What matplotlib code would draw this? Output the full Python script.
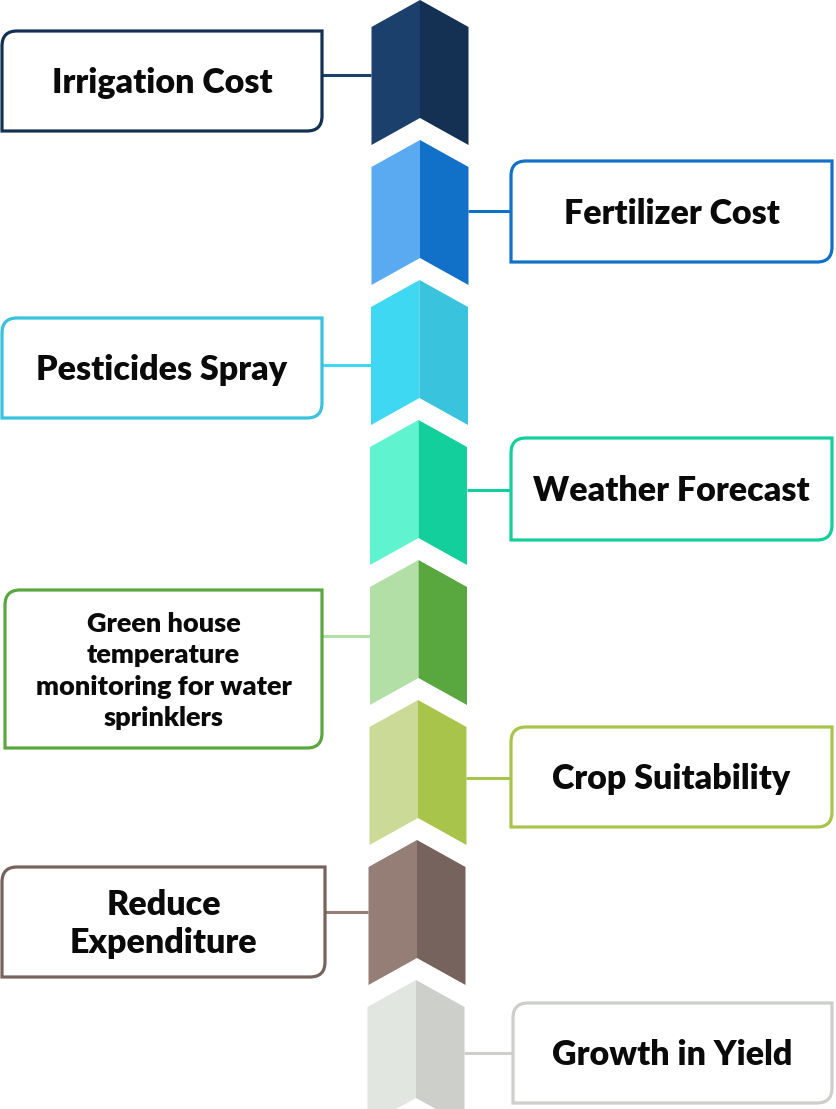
import matplotlib.pyplot as plt
from matplotlib.path import Path
from matplotlib.patches import PathPatch, Polygon

labels = [
    "Irrigation Cost",
    "Fertilizer Cost",
    "Pesticides Spray",
    "Weather Forecast",
    "Green house\ntemperature\nmonitoring for water\nsprinklers",
    "Crop Suitability",
    "Reduce\nExpenditure",
    "Growth in Yield",
]
sides = ["left", "right", "left", "right", "left", "right", "left", "right"]
light_colors = ["#1B406C", "#5AAAF2", "#3ED8F3", "#5FF3CF", "#B2DFA5", "#CCDA97", "#947E76", "#E1E6E1"]
dark_colors = ["#143052", "#1170C8", "#39C3DC", "#13CF9B", "#59A83F", "#A9C44B", "#76635D", "#CCCFCA"]
font_sizes = [24.5, 24.5, 24.5, 24.5, 19.5, 24.5, 24.5, 24.5]
line_gaps = [1.2, 1.2, 1.2, 1.2, 1.36, 1.2, 1.22, 1.2]

# layout in pixel coordinates (y grows downward)
W, H = 837, 1109
step = 140
half_w = 48.5
centers_x = [420, 420, 419.5, 418.5, 418.5, 418, 417, 416]
boxes = [(2, 31, 322, 131), (511, 161, 832, 262), (2, 318, 322, 418), (511, 438, 832, 540),
         (5, 590, 322, 748), (511, 727, 832, 827), (2, 867, 325, 977), (513, 1003, 832, 1103)]
link_y = [75, 211, 365, 490, 636, 778, 912, 1053]


def rounded_box(x0, y0, x1, y1, r=15):
    # rounded only on top-left and bottom-right corners
    verts = [
        (x0, y0 + r), (x0, y0), (x0 + r, y0),
        (x1, y0),
        (x1, y1 - r), (x1, y1), (x1 - r, y1),
        (x0, y1),
        (x0, y0 + r),
    ]
    codes = [Path.MOVETO, Path.CURVE3, Path.CURVE3,
             Path.LINETO,
             Path.LINETO, Path.CURVE3, Path.CURVE3,
             Path.LINETO,
             Path.CLOSEPOLY]
    return Path(verts, codes)


fig = plt.figure(figsize=(W / 100, H / 100), dpi=100)
ax = fig.add_axes([0, 0, 1, 1])
ax.set_xlim(0, W)
ax.set_ylim(H, 0)
ax.axis("off")

for i, (lab, side) in enumerate(zip(labels, sides)):
    cx = centers_x[i]
    top = step * i
    left_face = [(cx - half_w, top + 27), (cx, top), (cx, top + 118), (cx - half_w, top + 145)]
    right_face = [(cx, top), (cx + half_w, top + 27), (cx + half_w, top + 145), (cx, top + 118)]
    ax.add_patch(Polygon(left_face, closed=True, facecolor=light_colors[i], edgecolor="none", zorder=2))
    ax.add_patch(Polygon(right_face, closed=True, facecolor=dark_colors[i], edgecolor="none", zorder=2))

    x0, y0, x1, y1 = boxes[i]
    if side == "left":
        ax.plot([x1, cx - half_w], [link_y[i], link_y[i]], color=light_colors[i], lw=2.2, zorder=1,
                solid_capstyle="butt")
    else:
        ax.plot([cx + half_w, x0], [link_y[i], link_y[i]], color=dark_colors[i], lw=2.2, zorder=1,
                solid_capstyle="butt")
    ax.add_patch(PathPatch(rounded_box(x0, y0, x1, y1), facecolor="white",
                           edgecolor=dark_colors[i], lw=2.3, zorder=3))
    ax.text((x0 + x1) / 2, (y0 + y1) / 2 + 2, lab, ha="center", va="center",
            fontsize=font_sizes[i], fontweight="heavy", family="Lato", color="#0a0a0a",
            linespacing=line_gaps[i], zorder=4)

fig.savefig("out.png", dpi=100)
